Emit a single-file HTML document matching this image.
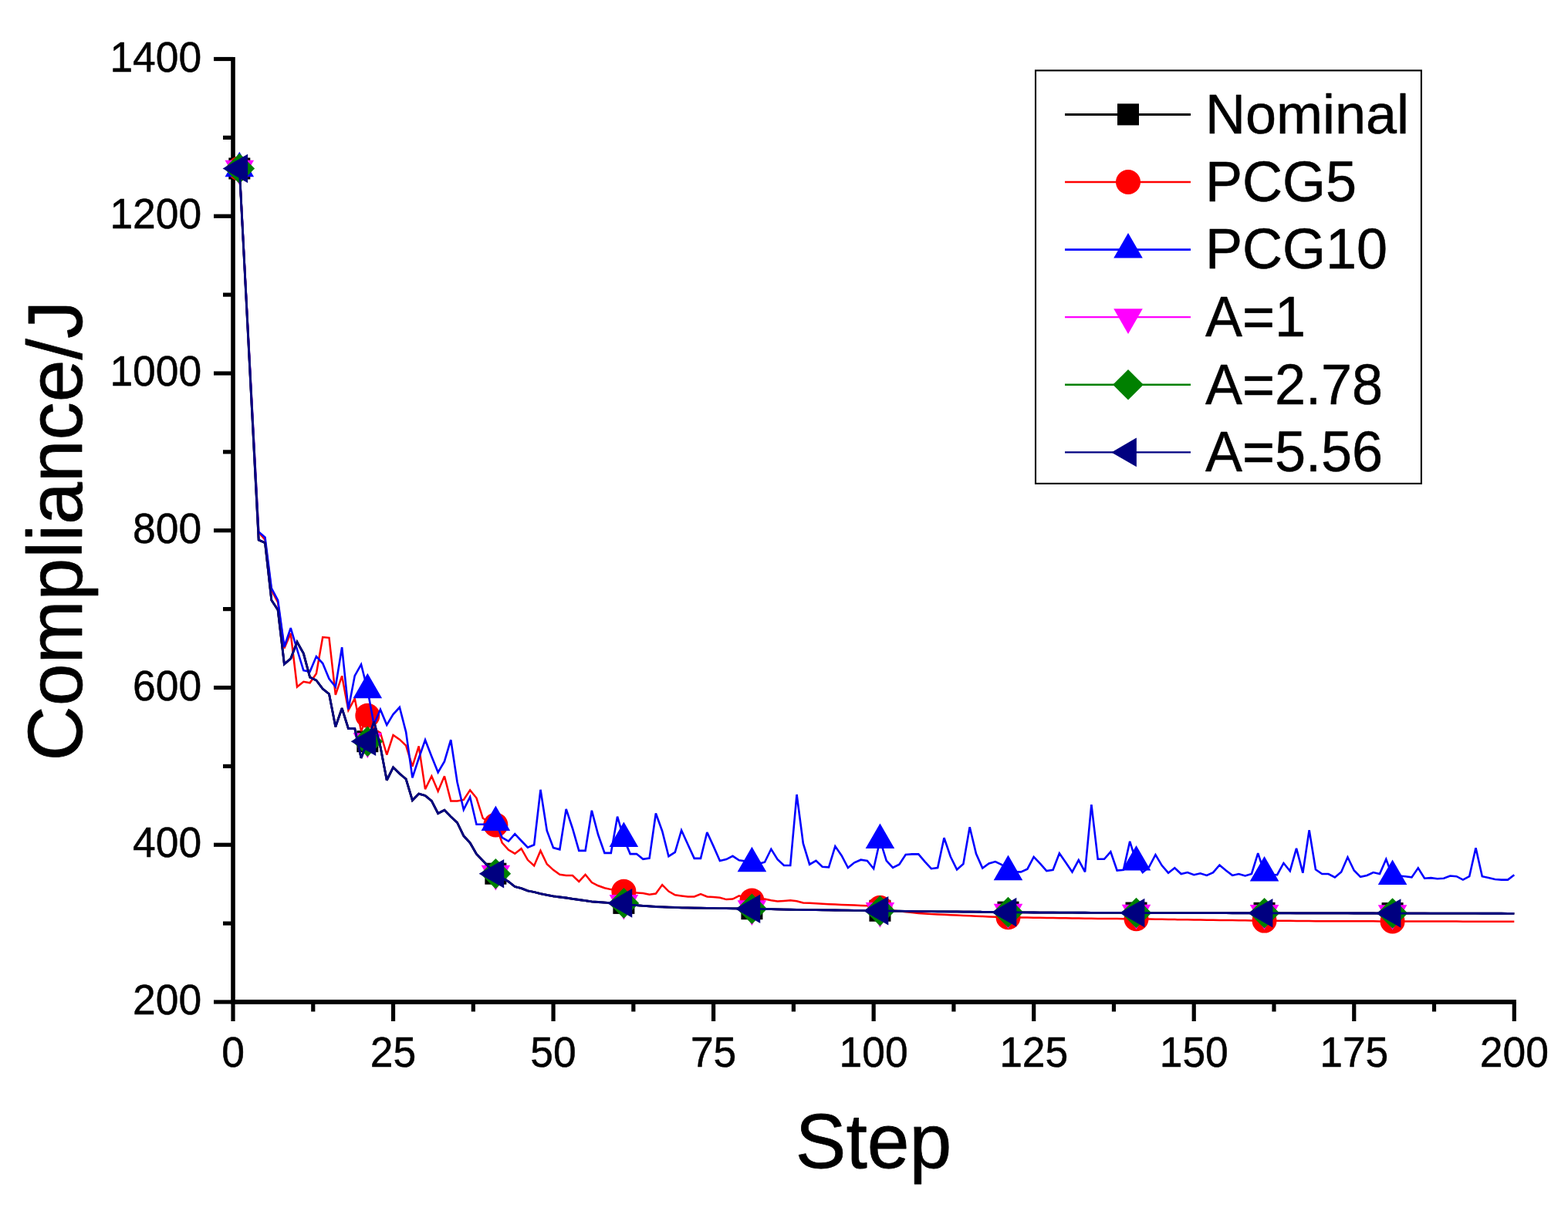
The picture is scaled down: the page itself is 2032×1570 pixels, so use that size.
<!DOCTYPE html><html><head><meta charset="utf-8"><style>html,body{margin:0;padding:0;background:#fff;overflow:hidden}svg{display:block}</style></head><body>
<svg width="2032" height="1570" viewBox="0 0 2032 1570" font-family="'Liberation Sans', Arial, sans-serif">
<rect width="2032" height="1570" fill="#fff"/>
<g stroke="#000" fill="none" stroke-linecap="butt">
<line x1="302.00" y1="74.1" x2="302.00" y2="1301.9" stroke-width="5.6"/>
<line x1="299.2" y1="1299.0" x2="1964.9" y2="1299.0" stroke-width="5.8"/>
<line x1="277" y1="1299.00" x2="302.0" y2="1299.00" stroke-width="5.2"/>
<line x1="277" y1="1095.25" x2="302.0" y2="1095.25" stroke-width="5.2"/>
<line x1="277" y1="891.50" x2="302.0" y2="891.50" stroke-width="5.2"/>
<line x1="277" y1="687.75" x2="302.0" y2="687.75" stroke-width="5.2"/>
<line x1="277" y1="484.00" x2="302.0" y2="484.00" stroke-width="5.2"/>
<line x1="277" y1="280.25" x2="302.0" y2="280.25" stroke-width="5.2"/>
<line x1="277" y1="76.50" x2="302.0" y2="76.50" stroke-width="5.2"/>
<line x1="289" y1="1197.12" x2="302.0" y2="1197.12" stroke-width="5.2"/>
<line x1="289" y1="993.38" x2="302.0" y2="993.38" stroke-width="5.2"/>
<line x1="289" y1="789.62" x2="302.0" y2="789.62" stroke-width="5.2"/>
<line x1="289" y1="585.88" x2="302.0" y2="585.88" stroke-width="5.2"/>
<line x1="289" y1="382.12" x2="302.0" y2="382.12" stroke-width="5.2"/>
<line x1="289" y1="178.38" x2="302.0" y2="178.38" stroke-width="5.2"/>
<line x1="302.00" y1="1299.0" x2="302.00" y2="1324" stroke-width="5.2"/>
<line x1="509.54" y1="1299.0" x2="509.54" y2="1324" stroke-width="5.2"/>
<line x1="717.07" y1="1299.0" x2="717.07" y2="1324" stroke-width="5.2"/>
<line x1="924.61" y1="1299.0" x2="924.61" y2="1324" stroke-width="5.2"/>
<line x1="1132.15" y1="1299.0" x2="1132.15" y2="1324" stroke-width="5.2"/>
<line x1="1339.69" y1="1299.0" x2="1339.69" y2="1324" stroke-width="5.2"/>
<line x1="1547.22" y1="1299.0" x2="1547.22" y2="1324" stroke-width="5.2"/>
<line x1="1754.76" y1="1299.0" x2="1754.76" y2="1324" stroke-width="5.2"/>
<line x1="1962.30" y1="1299.0" x2="1962.30" y2="1324" stroke-width="5.2"/>
<line x1="405.77" y1="1299.0" x2="405.77" y2="1311.5" stroke-width="5.2"/>
<line x1="613.31" y1="1299.0" x2="613.31" y2="1311.5" stroke-width="5.2"/>
<line x1="820.84" y1="1299.0" x2="820.84" y2="1311.5" stroke-width="5.2"/>
<line x1="1028.38" y1="1299.0" x2="1028.38" y2="1311.5" stroke-width="5.2"/>
<line x1="1235.92" y1="1299.0" x2="1235.92" y2="1311.5" stroke-width="5.2"/>
<line x1="1443.46" y1="1299.0" x2="1443.46" y2="1311.5" stroke-width="5.2"/>
<line x1="1650.99" y1="1299.0" x2="1650.99" y2="1311.5" stroke-width="5.2"/>
<line x1="1858.53" y1="1299.0" x2="1858.53" y2="1311.5" stroke-width="5.2"/>
</g>
<polyline points="310.30,218.50 318.60,379.00 326.90,539.50 335.21,700.00 343.51,703.80 351.81,778.10 360.11,790.80 368.41,861.00 376.71,853.90 385.01,832.20 393.32,847.10 401.62,878.00 409.92,882.00 418.22,893.10 426.52,899.70 434.82,942.20 443.13,918.10 451.43,944.50 459.73,944.50 468.03,982.70 476.33,961.20 484.63,935.20 492.93,968.00 501.24,1011.60 509.54,994.80 517.84,1003.00 526.14,1010.00 534.44,1037.60 542.74,1029.10 551.04,1031.40 559.35,1038.30 567.65,1054.50 575.95,1050.30 584.25,1058.70 592.55,1066.50 600.85,1083.70 609.16,1092.70 617.46,1107.20 625.76,1115.90 634.06,1124.50 642.36,1132.70 650.66,1138.00 658.96,1143.00 667.27,1149.50 675.57,1151.60 683.87,1154.90 692.17,1156.50 700.47,1158.70 708.77,1160.30 717.07,1161.90 725.38,1163.00 733.68,1164.00 741.98,1165.30 750.28,1166.50 758.58,1167.70 766.88,1168.90 775.19,1169.50 783.49,1170.10 791.79,1170.70 800.09,1170.80 808.39,1170.90 816.69,1173.10 824.99,1173.70 833.30,1174.30 841.60,1174.90 849.90,1175.50 858.20,1175.83 866.50,1176.15 874.80,1176.47 883.10,1176.80 891.41,1176.93 899.71,1177.07 908.01,1177.20 916.31,1177.33 924.61,1177.47 932.91,1177.60 941.22,1177.72 949.52,1177.84 957.82,1177.96 966.12,1178.08 974.42,1178.20 982.72,1178.37 991.02,1178.54 999.33,1178.71 1007.63,1178.89 1015.93,1179.06 1024.23,1179.23 1032.53,1179.40 1040.83,1179.50 1049.13,1179.60 1057.44,1179.70 1065.74,1179.80 1074.04,1179.90 1082.34,1180.00 1090.64,1180.10 1098.94,1180.20 1107.25,1180.30 1115.55,1180.40 1123.85,1180.50 1132.15,1180.60 1140.45,1180.74 1148.75,1180.89 1157.05,1181.03 1165.36,1181.17 1173.66,1181.31 1181.96,1181.46 1190.26,1181.60 1198.56,1181.66 1206.86,1181.72 1215.16,1181.79 1223.47,1181.85 1231.77,1181.91 1240.07,1181.97 1248.37,1182.04 1256.67,1182.10 1264.97,1182.19 1273.28,1182.28 1281.58,1182.37 1289.88,1182.46 1298.18,1182.55 1306.48,1182.64 1314.78,1182.73 1323.08,1182.82 1331.39,1182.91 1339.69,1183.00 1347.99,1183.03 1356.29,1183.07 1364.59,1183.10 1372.89,1183.13 1381.19,1183.17 1389.50,1183.20 1397.80,1183.23 1406.10,1183.27 1414.40,1183.30 1422.70,1183.33 1431.00,1183.37 1439.31,1183.40 1447.61,1183.43 1455.91,1183.47 1464.21,1183.50 1472.51,1183.52 1480.81,1183.53 1489.11,1183.55 1497.42,1183.56 1505.72,1183.58 1514.02,1183.59 1522.32,1183.61 1530.62,1183.62 1538.92,1183.63 1547.22,1183.65 1555.53,1183.66 1563.83,1183.68 1572.13,1183.69 1580.43,1183.71 1588.73,1183.72 1597.03,1183.74 1605.34,1183.75 1613.64,1183.77 1621.94,1183.78 1630.24,1183.80 1638.54,1183.81 1646.84,1183.83 1655.14,1183.84 1663.45,1183.85 1671.75,1183.86 1680.05,1183.88 1688.35,1183.89 1696.65,1183.90 1704.95,1183.91 1713.25,1183.92 1721.56,1183.94 1729.86,1183.95 1738.16,1183.96 1746.46,1183.97 1754.76,1183.99 1763.06,1184.00 1771.37,1184.01 1779.67,1184.02 1787.97,1184.04 1796.27,1184.05 1804.57,1184.06 1812.87,1184.08 1821.17,1184.09 1829.48,1184.10 1837.78,1184.11 1846.08,1184.12 1854.38,1184.14 1862.68,1184.15 1870.98,1184.16 1879.28,1184.17 1887.59,1184.19 1895.89,1184.20 1904.19,1184.21 1912.49,1184.22 1920.79,1184.24 1929.09,1184.25 1937.40,1184.26 1945.70,1184.27 1954.00,1184.29 1962.30,1184.30" fill="none" stroke="#000000" stroke-width="2.8" stroke-linejoin="miter" stroke-miterlimit="3"/>
<rect x="296.30" y="204.50" width="28" height="28" fill="#000000"/>
<rect x="462.33" y="947.20" width="28" height="28" fill="#000000"/>
<rect x="628.36" y="1118.70" width="28" height="28" fill="#000000"/>
<rect x="794.39" y="1156.90" width="28" height="28" fill="#000000"/>
<rect x="960.42" y="1164.20" width="28" height="28" fill="#000000"/>
<rect x="1126.45" y="1166.74" width="28" height="28" fill="#000000"/>
<rect x="1292.48" y="1168.64" width="28" height="28" fill="#000000"/>
<rect x="1458.51" y="1169.52" width="28" height="28" fill="#000000"/>
<rect x="1624.54" y="1169.81" width="28" height="28" fill="#000000"/>
<rect x="1790.57" y="1170.06" width="28" height="28" fill="#000000"/>
<polyline points="310.30,218.50 318.60,375.67 326.90,532.83 335.21,690.00 343.51,700.00 351.81,765.00 360.11,781.00 368.41,840.40 376.71,821.00 385.01,890.50 393.32,883.80 401.62,885.30 409.92,873.20 418.22,826.10 426.52,826.80 434.82,900.90 443.13,876.30 451.43,920.80 459.73,905.60 468.03,948.00 476.33,927.70 484.63,945.00 492.93,950.00 501.24,978.50 509.54,953.00 517.84,958.70 526.14,966.60 534.44,993.70 542.74,967.40 551.04,1023.10 559.35,1006.30 567.65,1025.80 575.95,1006.20 584.25,1038.40 592.55,1038.40 600.85,1036.90 609.16,1024.40 617.46,1034.50 625.76,1060.80 634.06,1066.00 642.36,1069.40 650.66,1092.50 658.96,1101.80 667.27,1106.70 675.57,1100.20 683.87,1114.80 692.17,1122.40 700.47,1102.90 708.77,1120.20 717.07,1127.80 725.38,1133.80 733.68,1135.00 741.98,1135.00 750.28,1142.90 758.58,1133.80 766.88,1144.10 775.19,1148.30 783.49,1151.30 791.79,1153.10 800.09,1154.50 808.39,1155.80 816.69,1157.40 824.99,1157.40 833.30,1158.00 841.60,1159.80 849.90,1158.60 858.20,1147.10 866.50,1155.60 874.80,1160.30 883.10,1161.40 891.41,1162.50 899.71,1162.50 908.01,1159.10 916.31,1162.50 924.61,1163.10 932.91,1163.70 941.22,1166.10 949.52,1165.50 957.82,1161.30 966.12,1164.00 974.42,1167.40 982.72,1166.00 991.02,1165.50 999.33,1167.30 1007.63,1168.50 1015.93,1167.90 1024.23,1167.30 1032.53,1168.30 1040.83,1170.40 1049.13,1170.84 1057.44,1171.28 1065.74,1171.72 1074.04,1172.16 1082.34,1172.60 1090.64,1172.92 1098.94,1173.24 1107.25,1173.56 1115.55,1173.88 1123.85,1174.20 1132.15,1175.20 1140.45,1176.70 1148.75,1179.40 1157.05,1180.50 1165.36,1181.38 1173.66,1182.25 1181.96,1183.12 1190.26,1184.00 1198.56,1184.50 1206.86,1185.00 1215.16,1185.50 1223.47,1185.86 1231.77,1186.22 1240.07,1186.58 1248.37,1186.94 1256.67,1187.30 1264.97,1187.70 1273.28,1188.10 1281.58,1188.50 1289.88,1188.73 1298.18,1188.97 1306.48,1189.20 1314.78,1189.32 1323.08,1189.44 1331.39,1189.57 1339.69,1189.69 1347.99,1189.81 1356.29,1189.93 1364.59,1190.06 1372.89,1190.18 1381.19,1190.30 1389.50,1190.42 1397.80,1190.54 1406.10,1190.66 1414.40,1190.78 1422.70,1190.90 1431.00,1190.97 1439.31,1191.03 1447.61,1191.10 1455.91,1191.17 1464.21,1191.23 1472.51,1191.30 1480.81,1191.43 1489.11,1191.57 1497.42,1191.70 1505.72,1191.83 1514.02,1191.97 1522.32,1192.10 1530.62,1192.23 1538.92,1192.37 1547.22,1192.50 1555.53,1192.60 1563.83,1192.70 1572.13,1192.80 1580.43,1192.90 1588.73,1193.00 1597.03,1193.10 1605.34,1193.20 1613.64,1193.30 1621.94,1193.40 1630.24,1193.50 1638.54,1193.57 1646.84,1193.64 1655.14,1193.71 1663.45,1193.78 1671.75,1193.85 1680.05,1193.92 1688.35,1193.99 1696.65,1194.06 1704.95,1194.13 1713.25,1194.20 1721.56,1194.22 1729.86,1194.24 1738.16,1194.26 1746.46,1194.28 1754.76,1194.30 1763.06,1194.32 1771.37,1194.34 1779.67,1194.36 1787.97,1194.38 1796.27,1194.40 1804.57,1194.42 1812.87,1194.44 1821.17,1194.46 1829.48,1194.48 1837.78,1194.50 1846.08,1194.52 1854.38,1194.54 1862.68,1194.56 1870.98,1194.58 1879.28,1194.60 1887.59,1194.62 1895.89,1194.64 1904.19,1194.66 1912.49,1194.68 1920.79,1194.70 1929.09,1194.72 1937.40,1194.74 1945.70,1194.76 1954.00,1194.78 1962.30,1194.80" fill="none" stroke="#ff0000" stroke-width="2.5" stroke-linejoin="miter" stroke-miterlimit="3"/>
<circle cx="310.30" cy="218.50" r="16" fill="#ff0000"/>
<circle cx="476.33" cy="927.70" r="16" fill="#ff0000"/>
<circle cx="642.36" cy="1069.40" r="16" fill="#ff0000"/>
<circle cx="808.39" cy="1155.80" r="16" fill="#ff0000"/>
<circle cx="974.42" cy="1167.40" r="16" fill="#ff0000"/>
<circle cx="1140.45" cy="1176.70" r="16" fill="#ff0000"/>
<circle cx="1306.48" cy="1189.20" r="16" fill="#ff0000"/>
<circle cx="1472.51" cy="1191.30" r="16" fill="#ff0000"/>
<circle cx="1638.54" cy="1193.57" r="16" fill="#ff0000"/>
<circle cx="1804.57" cy="1194.42" r="16" fill="#ff0000"/>
<polyline points="310.30,218.50 318.60,375.50 326.90,532.50 335.21,689.50 343.51,696.70 351.81,762.70 360.11,778.10 368.41,838.50 376.71,814.20 385.01,842.00 393.32,869.20 401.62,870.70 409.92,851.10 418.22,860.00 426.52,880.00 434.82,890.50 443.13,839.20 451.43,919.60 459.73,876.10 468.03,861.40 476.33,894.50 484.63,939.30 492.93,919.90 501.24,939.80 509.54,926.00 517.84,917.00 526.14,949.10 534.44,1008.40 542.74,983.00 551.04,959.20 559.35,980.80 567.65,1001.30 575.95,987.20 584.25,959.20 592.55,1014.00 600.85,1049.70 609.16,1033.20 617.46,1068.70 625.76,1068.70 634.06,1068.00 642.36,1066.20 650.66,1085.80 658.96,1090.60 667.27,1081.20 675.57,1090.00 683.87,1098.60 692.17,1095.30 700.47,1023.80 708.77,1076.90 717.07,1099.10 725.38,1101.30 733.68,1048.90 741.98,1074.00 750.28,1102.90 758.58,1102.90 766.88,1050.80 775.19,1082.30 783.49,1105.90 791.79,1105.90 800.09,1058.70 808.39,1087.10 816.69,1107.10 824.99,1107.10 833.30,1113.80 841.60,1112.60 849.90,1054.50 858.20,1077.50 866.50,1110.20 874.80,1104.80 883.10,1076.50 891.41,1094.70 899.71,1112.90 908.01,1112.90 916.31,1079.00 924.61,1097.10 932.91,1115.90 941.22,1114.10 949.52,1109.80 957.82,1115.30 966.12,1116.50 974.42,1119.40 982.72,1120.00 991.02,1117.70 999.33,1100.80 1007.63,1114.10 1015.93,1122.00 1024.23,1122.00 1032.53,1030.00 1040.83,1093.50 1049.13,1120.70 1057.44,1115.90 1065.74,1123.80 1074.04,1124.40 1082.34,1097.10 1090.64,1109.20 1098.94,1125.00 1107.25,1118.30 1115.55,1114.70 1123.85,1115.90 1132.15,1126.20 1140.45,1089.20 1148.75,1115.90 1157.05,1125.00 1165.36,1120.70 1173.66,1108.00 1181.96,1107.40 1190.26,1107.40 1198.56,1117.10 1206.86,1126.20 1215.16,1125.00 1223.47,1086.20 1231.77,1110.50 1240.07,1127.40 1248.37,1120.10 1256.67,1072.30 1264.97,1106.80 1273.28,1125.60 1281.58,1119.50 1289.88,1117.10 1298.18,1121.00 1306.48,1130.30 1314.78,1130.40 1323.08,1130.40 1331.39,1126.70 1339.69,1110.90 1347.99,1119.60 1356.29,1129.10 1364.59,1127.80 1372.89,1106.20 1381.19,1118.30 1389.50,1130.40 1397.80,1115.10 1406.10,1130.40 1414.40,1043.10 1422.70,1113.80 1431.00,1113.80 1439.31,1104.30 1447.61,1128.50 1455.91,1127.80 1464.21,1090.90 1472.51,1117.70 1480.81,1131.00 1489.11,1124.00 1497.42,1108.10 1505.72,1122.10 1514.02,1131.70 1522.32,1125.30 1530.62,1133.00 1538.92,1131.10 1547.22,1134.20 1555.53,1132.30 1563.83,1134.90 1572.13,1131.10 1580.43,1121.50 1588.73,1128.50 1597.03,1134.90 1605.34,1133.00 1613.64,1135.50 1621.94,1133.00 1630.24,1106.20 1638.54,1131.70 1646.84,1134.00 1655.14,1134.20 1663.45,1119.00 1671.75,1129.20 1680.05,1099.80 1688.35,1131.70 1696.65,1076.30 1704.95,1127.20 1713.25,1133.00 1721.56,1133.00 1729.86,1137.40 1738.16,1130.40 1746.46,1111.30 1754.76,1128.50 1763.06,1136.80 1771.37,1134.90 1779.67,1131.10 1787.97,1133.00 1796.27,1113.90 1804.57,1136.20 1812.87,1135.50 1821.17,1136.20 1829.48,1137.40 1837.78,1125.30 1846.08,1138.70 1854.38,1138.10 1862.68,1139.30 1870.98,1138.70 1879.28,1135.50 1887.59,1136.20 1895.89,1140.60 1904.19,1136.20 1912.49,1099.20 1920.79,1136.20 1929.09,1138.10 1937.40,1140.00 1945.70,1140.60 1954.00,1140.60 1962.30,1134.30" fill="none" stroke="#0000ff" stroke-width="2.6" stroke-linejoin="miter" stroke-miterlimit="3"/>
<polygon points="310.30,196.80 329.09,229.35 291.51,229.35" fill="#0000ff"/>
<polygon points="476.33,872.80 495.12,905.35 457.54,905.35" fill="#0000ff"/>
<polygon points="642.36,1044.50 661.15,1077.05 623.57,1077.05" fill="#0000ff"/>
<polygon points="808.39,1065.40 827.18,1097.95 789.60,1097.95" fill="#0000ff"/>
<polygon points="974.42,1097.70 993.21,1130.25 955.63,1130.25" fill="#0000ff"/>
<polygon points="1140.45,1067.50 1159.24,1100.05 1121.66,1100.05" fill="#0000ff"/>
<polygon points="1306.48,1108.60 1325.27,1141.15 1287.69,1141.15" fill="#0000ff"/>
<polygon points="1472.51,1096.00 1491.30,1128.55 1453.72,1128.55" fill="#0000ff"/>
<polygon points="1638.54,1110.00 1657.33,1142.55 1619.75,1142.55" fill="#0000ff"/>
<polygon points="1804.57,1114.50 1823.36,1147.05 1785.78,1147.05" fill="#0000ff"/>
<polyline points="310.30,218.50 318.60,379.00 326.90,539.50 335.21,700.00 343.51,703.80 351.81,778.10 360.11,790.80 368.41,861.00 376.71,853.90 385.01,832.20 393.32,847.10 401.62,878.00 409.92,882.00 418.22,893.10 426.52,899.70 434.82,942.20 443.13,918.10 451.43,944.50 459.73,944.50 468.03,982.70 476.33,961.20 484.63,935.20 492.93,968.00 501.24,1011.60 509.54,994.80 517.84,1003.00 526.14,1010.00 534.44,1037.60 542.74,1029.10 551.04,1031.40 559.35,1038.30 567.65,1054.50 575.95,1050.30 584.25,1058.70 592.55,1066.50 600.85,1083.70 609.16,1092.70 617.46,1107.20 625.76,1115.90 634.06,1124.50 642.36,1132.70 650.66,1138.00 658.96,1143.00 667.27,1149.50 675.57,1151.60 683.87,1154.90 692.17,1156.50 700.47,1158.70 708.77,1160.30 717.07,1161.90 725.38,1163.00 733.68,1164.00 741.98,1165.30 750.28,1166.50 758.58,1167.70 766.88,1168.90 775.19,1169.50 783.49,1170.10 791.79,1170.70 800.09,1170.80 808.39,1170.90 816.69,1173.10 824.99,1173.70 833.30,1174.30 841.60,1174.90 849.90,1175.50 858.20,1175.83 866.50,1176.15 874.80,1176.47 883.10,1176.80 891.41,1176.93 899.71,1177.07 908.01,1177.20 916.31,1177.33 924.61,1177.47 932.91,1177.60 941.22,1177.72 949.52,1177.84 957.82,1177.96 966.12,1178.08 974.42,1178.20 982.72,1178.37 991.02,1178.54 999.33,1178.71 1007.63,1178.89 1015.93,1179.06 1024.23,1179.23 1032.53,1179.40 1040.83,1179.50 1049.13,1179.60 1057.44,1179.70 1065.74,1179.80 1074.04,1179.90 1082.34,1180.00 1090.64,1180.10 1098.94,1180.20 1107.25,1180.30 1115.55,1180.40 1123.85,1180.50 1132.15,1180.60 1140.45,1180.74 1148.75,1180.89 1157.05,1181.03 1165.36,1181.17 1173.66,1181.31 1181.96,1181.46 1190.26,1181.60 1198.56,1181.66 1206.86,1181.72 1215.16,1181.79 1223.47,1181.85 1231.77,1181.91 1240.07,1181.97 1248.37,1182.04 1256.67,1182.10 1264.97,1182.19 1273.28,1182.28 1281.58,1182.37 1289.88,1182.46 1298.18,1182.55 1306.48,1182.64 1314.78,1182.73 1323.08,1182.82 1331.39,1182.91 1339.69,1183.00 1347.99,1183.03 1356.29,1183.07 1364.59,1183.10 1372.89,1183.13 1381.19,1183.17 1389.50,1183.20 1397.80,1183.23 1406.10,1183.27 1414.40,1183.30 1422.70,1183.33 1431.00,1183.37 1439.31,1183.40 1447.61,1183.43 1455.91,1183.47 1464.21,1183.50 1472.51,1183.52 1480.81,1183.53 1489.11,1183.55 1497.42,1183.56 1505.72,1183.58 1514.02,1183.59 1522.32,1183.61 1530.62,1183.62 1538.92,1183.63 1547.22,1183.65 1555.53,1183.66 1563.83,1183.68 1572.13,1183.69 1580.43,1183.71 1588.73,1183.72 1597.03,1183.74 1605.34,1183.75 1613.64,1183.77 1621.94,1183.78 1630.24,1183.80 1638.54,1183.81 1646.84,1183.83 1655.14,1183.84 1663.45,1183.85 1671.75,1183.86 1680.05,1183.88 1688.35,1183.89 1696.65,1183.90 1704.95,1183.91 1713.25,1183.92 1721.56,1183.94 1729.86,1183.95 1738.16,1183.96 1746.46,1183.97 1754.76,1183.99 1763.06,1184.00 1771.37,1184.01 1779.67,1184.02 1787.97,1184.04 1796.27,1184.05 1804.57,1184.06 1812.87,1184.08 1821.17,1184.09 1829.48,1184.10 1837.78,1184.11 1846.08,1184.12 1854.38,1184.14 1862.68,1184.15 1870.98,1184.16 1879.28,1184.17 1887.59,1184.19 1895.89,1184.20 1904.19,1184.21 1912.49,1184.22 1920.79,1184.24 1929.09,1184.25 1937.40,1184.26 1945.70,1184.27 1954.00,1184.29 1962.30,1184.30" fill="none" stroke="#ff00ff" stroke-width="2.5" stroke-linejoin="miter" stroke-miterlimit="3"/>
<polygon points="310.30,240.20 329.09,207.65 291.51,207.65" fill="#ff00ff"/>
<polygon points="476.33,982.90 495.12,950.35 457.54,950.35" fill="#ff00ff"/>
<polygon points="642.36,1154.40 661.15,1121.85 623.57,1121.85" fill="#ff00ff"/>
<polygon points="808.39,1192.60 827.18,1160.05 789.60,1160.05" fill="#ff00ff"/>
<polygon points="974.42,1199.90 993.21,1167.35 955.63,1167.35" fill="#ff00ff"/>
<polygon points="1140.45,1202.44 1159.24,1169.89 1121.66,1169.89" fill="#ff00ff"/>
<polygon points="1306.48,1204.34 1325.27,1171.79 1287.69,1171.79" fill="#ff00ff"/>
<polygon points="1472.51,1205.22 1491.30,1172.67 1453.72,1172.67" fill="#ff00ff"/>
<polygon points="1638.54,1205.51 1657.33,1172.96 1619.75,1172.96" fill="#ff00ff"/>
<polygon points="1804.57,1205.76 1823.36,1173.21 1785.78,1173.21" fill="#ff00ff"/>
<polyline points="310.30,218.50 318.60,379.00 326.90,539.50 335.21,700.00 343.51,703.80 351.81,778.10 360.11,790.80 368.41,861.00 376.71,853.90 385.01,832.20 393.32,847.10 401.62,878.00 409.92,882.00 418.22,893.10 426.52,899.70 434.82,942.20 443.13,918.10 451.43,944.50 459.73,944.50 468.03,982.70 476.33,961.20 484.63,935.20 492.93,968.00 501.24,1011.60 509.54,994.80 517.84,1003.00 526.14,1010.00 534.44,1037.60 542.74,1029.10 551.04,1031.40 559.35,1038.30 567.65,1054.50 575.95,1050.30 584.25,1058.70 592.55,1066.50 600.85,1083.70 609.16,1092.70 617.46,1107.20 625.76,1115.90 634.06,1124.50 642.36,1132.70 650.66,1138.00 658.96,1143.00 667.27,1149.50 675.57,1151.60 683.87,1154.90 692.17,1156.50 700.47,1158.70 708.77,1160.30 717.07,1161.90 725.38,1163.00 733.68,1164.00 741.98,1165.30 750.28,1166.50 758.58,1167.70 766.88,1168.90 775.19,1169.50 783.49,1170.10 791.79,1170.70 800.09,1170.80 808.39,1170.90 816.69,1173.10 824.99,1173.70 833.30,1174.30 841.60,1174.90 849.90,1175.50 858.20,1175.83 866.50,1176.15 874.80,1176.47 883.10,1176.80 891.41,1176.93 899.71,1177.07 908.01,1177.20 916.31,1177.33 924.61,1177.47 932.91,1177.60 941.22,1177.72 949.52,1177.84 957.82,1177.96 966.12,1178.08 974.42,1178.20 982.72,1178.37 991.02,1178.54 999.33,1178.71 1007.63,1178.89 1015.93,1179.06 1024.23,1179.23 1032.53,1179.40 1040.83,1179.50 1049.13,1179.60 1057.44,1179.70 1065.74,1179.80 1074.04,1179.90 1082.34,1180.00 1090.64,1180.10 1098.94,1180.20 1107.25,1180.30 1115.55,1180.40 1123.85,1180.50 1132.15,1180.60 1140.45,1180.74 1148.75,1180.89 1157.05,1181.03 1165.36,1181.17 1173.66,1181.31 1181.96,1181.46 1190.26,1181.60 1198.56,1181.66 1206.86,1181.72 1215.16,1181.79 1223.47,1181.85 1231.77,1181.91 1240.07,1181.97 1248.37,1182.04 1256.67,1182.10 1264.97,1182.19 1273.28,1182.28 1281.58,1182.37 1289.88,1182.46 1298.18,1182.55 1306.48,1182.64 1314.78,1182.73 1323.08,1182.82 1331.39,1182.91 1339.69,1183.00 1347.99,1183.03 1356.29,1183.07 1364.59,1183.10 1372.89,1183.13 1381.19,1183.17 1389.50,1183.20 1397.80,1183.23 1406.10,1183.27 1414.40,1183.30 1422.70,1183.33 1431.00,1183.37 1439.31,1183.40 1447.61,1183.43 1455.91,1183.47 1464.21,1183.50 1472.51,1183.52 1480.81,1183.53 1489.11,1183.55 1497.42,1183.56 1505.72,1183.58 1514.02,1183.59 1522.32,1183.61 1530.62,1183.62 1538.92,1183.63 1547.22,1183.65 1555.53,1183.66 1563.83,1183.68 1572.13,1183.69 1580.43,1183.71 1588.73,1183.72 1597.03,1183.74 1605.34,1183.75 1613.64,1183.77 1621.94,1183.78 1630.24,1183.80 1638.54,1183.81 1646.84,1183.83 1655.14,1183.84 1663.45,1183.85 1671.75,1183.86 1680.05,1183.88 1688.35,1183.89 1696.65,1183.90 1704.95,1183.91 1713.25,1183.92 1721.56,1183.94 1729.86,1183.95 1738.16,1183.96 1746.46,1183.97 1754.76,1183.99 1763.06,1184.00 1771.37,1184.01 1779.67,1184.02 1787.97,1184.04 1796.27,1184.05 1804.57,1184.06 1812.87,1184.08 1821.17,1184.09 1829.48,1184.10 1837.78,1184.11 1846.08,1184.12 1854.38,1184.14 1862.68,1184.15 1870.98,1184.16 1879.28,1184.17 1887.59,1184.19 1895.89,1184.20 1904.19,1184.21 1912.49,1184.22 1920.79,1184.24 1929.09,1184.25 1937.40,1184.26 1945.70,1184.27 1954.00,1184.29 1962.30,1184.30" fill="none" stroke="#008000" stroke-width="2.5" stroke-linejoin="miter" stroke-miterlimit="3"/>
<polygon points="310.30,198.70 330.10,218.50 310.30,238.30 290.50,218.50" fill="#008000"/>
<polygon points="476.33,941.40 496.13,961.20 476.33,981.00 456.53,961.20" fill="#008000"/>
<polygon points="642.36,1112.90 662.16,1132.70 642.36,1152.50 622.56,1132.70" fill="#008000"/>
<polygon points="808.39,1151.10 828.19,1170.90 808.39,1190.70 788.59,1170.90" fill="#008000"/>
<polygon points="974.42,1158.40 994.22,1178.20 974.42,1198.00 954.62,1178.20" fill="#008000"/>
<polygon points="1140.45,1160.94 1160.25,1180.74 1140.45,1200.54 1120.65,1180.74" fill="#008000"/>
<polygon points="1306.48,1162.84 1326.28,1182.64 1306.48,1202.44 1286.68,1182.64" fill="#008000"/>
<polygon points="1472.51,1163.72 1492.31,1183.52 1472.51,1203.32 1452.71,1183.52" fill="#008000"/>
<polygon points="1638.54,1164.01 1658.34,1183.81 1638.54,1203.61 1618.74,1183.81" fill="#008000"/>
<polygon points="1804.57,1164.26 1824.37,1184.06 1804.57,1203.86 1784.77,1184.06" fill="#008000"/>
<polyline points="310.30,218.50 318.60,379.00 326.90,539.50 335.21,700.00 343.51,703.80 351.81,778.10 360.11,790.80 368.41,861.00 376.71,853.90 385.01,832.20 393.32,847.10 401.62,878.00 409.92,882.00 418.22,893.10 426.52,899.70 434.82,942.20 443.13,918.10 451.43,944.50 459.73,944.50 468.03,982.70 476.33,961.20 484.63,935.20 492.93,968.00 501.24,1011.60 509.54,994.80 517.84,1003.00 526.14,1010.00 534.44,1037.60 542.74,1029.10 551.04,1031.40 559.35,1038.30 567.65,1054.50 575.95,1050.30 584.25,1058.70 592.55,1066.50 600.85,1083.70 609.16,1092.70 617.46,1107.20 625.76,1115.90 634.06,1124.50 642.36,1132.70 650.66,1138.00 658.96,1143.00 667.27,1149.50 675.57,1151.60 683.87,1154.90 692.17,1156.50 700.47,1158.70 708.77,1160.30 717.07,1161.90 725.38,1163.00 733.68,1164.00 741.98,1165.30 750.28,1166.50 758.58,1167.70 766.88,1168.90 775.19,1169.50 783.49,1170.10 791.79,1170.70 800.09,1170.80 808.39,1170.90 816.69,1173.10 824.99,1173.70 833.30,1174.30 841.60,1174.90 849.90,1175.50 858.20,1175.83 866.50,1176.15 874.80,1176.47 883.10,1176.80 891.41,1176.93 899.71,1177.07 908.01,1177.20 916.31,1177.33 924.61,1177.47 932.91,1177.60 941.22,1177.72 949.52,1177.84 957.82,1177.96 966.12,1178.08 974.42,1178.20 982.72,1178.37 991.02,1178.54 999.33,1178.71 1007.63,1178.89 1015.93,1179.06 1024.23,1179.23 1032.53,1179.40 1040.83,1179.50 1049.13,1179.60 1057.44,1179.70 1065.74,1179.80 1074.04,1179.90 1082.34,1180.00 1090.64,1180.10 1098.94,1180.20 1107.25,1180.30 1115.55,1180.40 1123.85,1180.50 1132.15,1180.60 1140.45,1180.74 1148.75,1180.89 1157.05,1181.03 1165.36,1181.17 1173.66,1181.31 1181.96,1181.46 1190.26,1181.60 1198.56,1181.66 1206.86,1181.72 1215.16,1181.79 1223.47,1181.85 1231.77,1181.91 1240.07,1181.97 1248.37,1182.04 1256.67,1182.10 1264.97,1182.19 1273.28,1182.28 1281.58,1182.37 1289.88,1182.46 1298.18,1182.55 1306.48,1182.64 1314.78,1182.73 1323.08,1182.82 1331.39,1182.91 1339.69,1183.00 1347.99,1183.03 1356.29,1183.07 1364.59,1183.10 1372.89,1183.13 1381.19,1183.17 1389.50,1183.20 1397.80,1183.23 1406.10,1183.27 1414.40,1183.30 1422.70,1183.33 1431.00,1183.37 1439.31,1183.40 1447.61,1183.43 1455.91,1183.47 1464.21,1183.50 1472.51,1183.52 1480.81,1183.53 1489.11,1183.55 1497.42,1183.56 1505.72,1183.58 1514.02,1183.59 1522.32,1183.61 1530.62,1183.62 1538.92,1183.63 1547.22,1183.65 1555.53,1183.66 1563.83,1183.68 1572.13,1183.69 1580.43,1183.71 1588.73,1183.72 1597.03,1183.74 1605.34,1183.75 1613.64,1183.77 1621.94,1183.78 1630.24,1183.80 1638.54,1183.81 1646.84,1183.83 1655.14,1183.84 1663.45,1183.85 1671.75,1183.86 1680.05,1183.88 1688.35,1183.89 1696.65,1183.90 1704.95,1183.91 1713.25,1183.92 1721.56,1183.94 1729.86,1183.95 1738.16,1183.96 1746.46,1183.97 1754.76,1183.99 1763.06,1184.00 1771.37,1184.01 1779.67,1184.02 1787.97,1184.04 1796.27,1184.05 1804.57,1184.06 1812.87,1184.08 1821.17,1184.09 1829.48,1184.10 1837.78,1184.11 1846.08,1184.12 1854.38,1184.14 1862.68,1184.15 1870.98,1184.16 1879.28,1184.17 1887.59,1184.19 1895.89,1184.20 1904.19,1184.21 1912.49,1184.22 1920.79,1184.24 1929.09,1184.25 1937.40,1184.26 1945.70,1184.27 1954.00,1184.29 1962.30,1184.30" fill="none" stroke="#000080" stroke-width="2.8" stroke-linejoin="miter" stroke-miterlimit="3"/>
<polygon points="288.60,218.50 321.15,199.71 321.15,237.29" fill="#000080"/>
<polygon points="454.63,961.20 487.18,942.41 487.18,979.99" fill="#000080"/>
<polygon points="620.66,1132.70 653.21,1113.91 653.21,1151.49" fill="#000080"/>
<polygon points="786.69,1170.90 819.24,1152.11 819.24,1189.69" fill="#000080"/>
<polygon points="952.72,1178.20 985.27,1159.41 985.27,1196.99" fill="#000080"/>
<polygon points="1118.75,1180.74 1151.30,1161.95 1151.30,1199.54" fill="#000080"/>
<polygon points="1284.78,1182.64 1317.33,1163.85 1317.33,1201.43" fill="#000080"/>
<polygon points="1450.81,1183.52 1483.36,1164.72 1483.36,1202.31" fill="#000080"/>
<polygon points="1616.84,1183.81 1649.39,1165.02 1649.39,1202.61" fill="#000080"/>
<polygon points="1782.87,1184.06 1815.42,1165.27 1815.42,1202.86" fill="#000080"/>
<text transform="translate(261.20,1315.00) scale(1,1.04)" font-size="53.4" text-anchor="end" fill="#000" stroke="#000" stroke-width="0.5" stroke-linejoin="round">200</text>
<text transform="translate(261.20,1111.25) scale(1,1.04)" font-size="53.4" text-anchor="end" fill="#000" stroke="#000" stroke-width="0.5" stroke-linejoin="round">400</text>
<text transform="translate(261.20,907.50) scale(1,1.04)" font-size="53.4" text-anchor="end" fill="#000" stroke="#000" stroke-width="0.5" stroke-linejoin="round">600</text>
<text transform="translate(261.20,703.75) scale(1,1.04)" font-size="53.4" text-anchor="end" fill="#000" stroke="#000" stroke-width="0.5" stroke-linejoin="round">800</text>
<text transform="translate(261.20,500.00) scale(1,1.04)" font-size="53.4" text-anchor="end" fill="#000" stroke="#000" stroke-width="0.5" stroke-linejoin="round">1000</text>
<text transform="translate(261.20,296.25) scale(1,1.04)" font-size="53.4" text-anchor="end" fill="#000" stroke="#000" stroke-width="0.5" stroke-linejoin="round">1200</text>
<text transform="translate(261.20,92.50) scale(1,1.04)" font-size="53.4" text-anchor="end" fill="#000" stroke="#000" stroke-width="0.5" stroke-linejoin="round">1400</text>
<text transform="translate(302.00,1382.60) scale(1,1.04)" font-size="53.4" text-anchor="middle" fill="#000" stroke="#000" stroke-width="0.5" stroke-linejoin="round">0</text>
<text transform="translate(509.54,1382.60) scale(1,1.04)" font-size="53.4" text-anchor="middle" fill="#000" stroke="#000" stroke-width="0.5" stroke-linejoin="round">25</text>
<text transform="translate(717.07,1382.60) scale(1,1.04)" font-size="53.4" text-anchor="middle" fill="#000" stroke="#000" stroke-width="0.5" stroke-linejoin="round">50</text>
<text transform="translate(924.61,1382.60) scale(1,1.04)" font-size="53.4" text-anchor="middle" fill="#000" stroke="#000" stroke-width="0.5" stroke-linejoin="round">75</text>
<text transform="translate(1132.15,1382.60) scale(1,1.04)" font-size="53.4" text-anchor="middle" fill="#000" stroke="#000" stroke-width="0.5" stroke-linejoin="round">100</text>
<text transform="translate(1339.69,1382.60) scale(1,1.04)" font-size="53.4" text-anchor="middle" fill="#000" stroke="#000" stroke-width="0.5" stroke-linejoin="round">125</text>
<text transform="translate(1547.22,1382.60) scale(1,1.04)" font-size="53.4" text-anchor="middle" fill="#000" stroke="#000" stroke-width="0.5" stroke-linejoin="round">150</text>
<text transform="translate(1754.76,1382.60) scale(1,1.04)" font-size="53.4" text-anchor="middle" fill="#000" stroke="#000" stroke-width="0.5" stroke-linejoin="round">175</text>
<text transform="translate(1962.30,1382.60) scale(1,1.04)" font-size="53.4" text-anchor="middle" fill="#000" stroke="#000" stroke-width="0.5" stroke-linejoin="round">200</text>
<text transform="translate(1030.70,1514.00) scale(1,1.02)" font-size="98.5" text-anchor="start" fill="#000" stroke="#000" stroke-width="0.75" stroke-linejoin="round">Step</text>
<text transform="translate(106.00,986.40) rotate(-90) scale(1,1.02)" font-size="98.5" text-anchor="start" fill="#000" stroke="#000" stroke-width="0.75" stroke-linejoin="round">Compliance/J</text>
<rect x="1342" y="91.4" width="499.9" height="535.5" fill="#fff" stroke="#000" stroke-width="2.1"/>
<line x1="1380" y1="148.40" x2="1543" y2="148.40" stroke="#000000" stroke-width="3.0"/>
<rect x="1448.00" y="134.40" width="28" height="28" fill="#000000"/>
<text transform="translate(1562.00,173.10) scale(1,1.01)" font-size="72" text-anchor="start" fill="#000" stroke="#000" stroke-width="0.5" stroke-linejoin="round">Nominal</text>
<line x1="1380" y1="236.00" x2="1543" y2="236.00" stroke="#ff0000" stroke-width="2.3"/>
<circle cx="1462.00" cy="236.00" r="16" fill="#ff0000"/>
<text transform="translate(1562.00,260.70) scale(1,1.04)" font-size="72" text-anchor="start" fill="#000" stroke="#000" stroke-width="0.5" stroke-linejoin="round">PCG5</text>
<line x1="1380" y1="323.60" x2="1543" y2="323.60" stroke="#0000ff" stroke-width="2.9"/>
<polygon points="1462.00,301.90 1480.79,334.45 1443.21,334.45" fill="#0000ff"/>
<text transform="translate(1562.00,348.30) scale(1,1.04)" font-size="72" text-anchor="start" fill="#000" stroke="#000" stroke-width="0.5" stroke-linejoin="round">PCG10</text>
<line x1="1380" y1="411.20" x2="1543" y2="411.20" stroke="#ff00ff" stroke-width="2.2"/>
<polygon points="1462.00,432.90 1480.79,400.35 1443.21,400.35" fill="#ff00ff"/>
<text transform="translate(1562.00,435.90) scale(1,1.04)" font-size="72" text-anchor="start" fill="#000" stroke="#000" stroke-width="0.5" stroke-linejoin="round">A=1</text>
<line x1="1380" y1="498.80" x2="1543" y2="498.80" stroke="#008000" stroke-width="2.4"/>
<polygon points="1462.00,479.00 1481.80,498.80 1462.00,518.60 1442.20,498.80" fill="#008000"/>
<text transform="translate(1562.00,523.50) scale(1,1.04)" font-size="72" text-anchor="start" fill="#000" stroke="#000" stroke-width="0.5" stroke-linejoin="round">A=2.78</text>
<line x1="1380" y1="586.40" x2="1543" y2="586.40" stroke="#000080" stroke-width="2.4"/>
<polygon points="1440.30,586.40 1472.85,567.61 1472.85,605.19" fill="#000080"/>
<text transform="translate(1562.00,611.10) scale(1,1.04)" font-size="72" text-anchor="start" fill="#000" stroke="#000" stroke-width="0.5" stroke-linejoin="round">A=5.56</text>
</svg></body></html>
